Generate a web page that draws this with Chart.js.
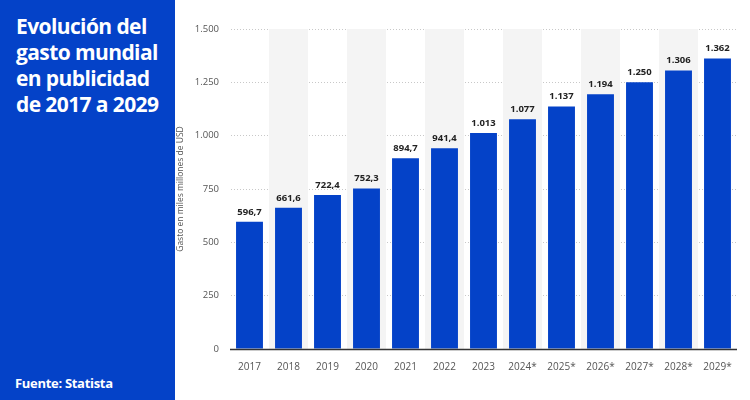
<!DOCTYPE html>
<html><head><meta charset="utf-8">
<script src="https://cdn.jsdelivr.net/npm/chart.js@4/dist/chart.umd.min.js"></script>
<style>
html,body{margin:0;padding:0;background:#fff;}
#wrap{position:relative;width:750px;height:400px;overflow:hidden;}
#panel{position:absolute;left:0;top:0;width:175px;height:400px;background:#0442c8;color:#fff;font-family:"Open Sans",sans-serif;}
#title{position:absolute;left:16px;top:13px;font-size:21px;font-weight:700;line-height:26px;letter-spacing:-0.6px;}
#src{position:absolute;left:15px;top:374px;font-size:13px;font-weight:700;letter-spacing:-0.3px;}
#cw{position:absolute;left:175px;top:0;width:575px;height:400px;}
</style></head><body>
<div id="wrap">
<div id="panel"><div id="title">Evolución del<br>gasto mundial<br>en publicidad<br>de 2017 a 2029</div><div id="src">Fuente: Statista</div></div>
<div id="cw"><canvas id="c"></canvas></div>
</div>
<script>
const years = ["2017","2018","2019","2020","2021","2022","2023","2024*","2025*","2026*","2027*","2028*","2029*"];
const spend = [596.7,661.6,722.4,752.3,894.7,941.4,1013,1077,1137,1194,1250,1306,1362];
const yTicks = [0,250,500,750,1000,1250,1500];
const yTitle = "Gasto en miles millones de USD";

function fmt(v){
  if (v >= 1000) return Math.round(v).toString().replace(/\B(?=(\d{3})+(?!\d))/g,".");
  if (Number.isInteger(v)) return String(v);
  return v.toFixed(1).replace(".",",");
}

const bands = {
  id:'bands',
  beforeDatasetsDraw(chart){
    const {ctx, chartArea, scales:{x}} = chart;
    ctx.save();
    ctx.fillStyle = '#f4f4f4';
    years.forEach((y,i)=>{
      if (i%2===1){
        const cx = x.getPixelForValue(i);
        const w = (x.right - x.left)/years.length;
        ctx.fillRect(cx - w/2, chartArea.top, w, chartArea.bottom - chartArea.top);
      }
    });
    ctx.restore();
  }
};
const labels = {
  id:'labels',
  afterDatasetsDraw(chart){
    const {ctx} = chart;
    const meta = chart.getDatasetMeta(0);
    ctx.save();
    ctx.font = 'bold 9.5px "Open Sans", sans-serif';
    ctx.fillStyle = '#222';
    ctx.textAlign = 'center';
    ctx.textBaseline = 'bottom';
    meta.data.forEach((bar,i)=>{
      ctx.fillText(fmt(spend[i]), bar.x, bar.y - 5);
    });
    ctx.restore();
  }
};
const baseLine = {
  id:'baseLine',
  afterDatasetsDraw(chart){
    const {ctx, chartArea} = chart;
    ctx.save();
    ctx.strokeStyle = '#333';
    ctx.lineWidth = 1.5;
    ctx.beginPath();
    ctx.moveTo(chartArea.left, chartArea.bottom+0.5);
    ctx.lineTo(chartArea.right, chartArea.bottom+0.5);
    ctx.stroke();
    ctx.restore();
  }
};

new Chart(document.getElementById('c'), {
  type:'bar',
  data:{labels:years, datasets:[{data:spend, backgroundColor:'#0442c8', categoryPercentage:1, barPercentage:0.69}]},
  options:{
    responsive:true, maintainAspectRatio:false, animation:false,
    layout:{padding:{top:29,right:13,bottom:23,left:0}},
    plugins:{legend:{display:false}, tooltip:{enabled:false}},
    scales:{
      x:{grid:{display:false}, border:{display:false},
         ticks:{color:'#555', font:{family:'"Open Sans", sans-serif', size:10}, padding:4}},
      y:{min:0, max:1500, afterBuildTicks(s){ s.ticks = yTicks.map(v=>({value:v})); },
         afterFit(s){ s.width = 55; },
         grid:{color:'#c8c8c8', lineWidth:1, drawTicks:false},
         border:{display:true, color:'rgba(0,0,0,0)', dash:[1,2]},
         ticks:{color:'#555', padding:11, font:{family:'"Open Sans", sans-serif', size:9.5}, callback:v=>fmt(v)},
         title:{display:true, text:yTitle, color:'#555', font:{family:'"Open Sans", sans-serif', size:8.5}, padding:{top:0,bottom:2}}
      }
    }
  },
  plugins:[bands, labels, baseLine]
});
</script>
</body></html>
